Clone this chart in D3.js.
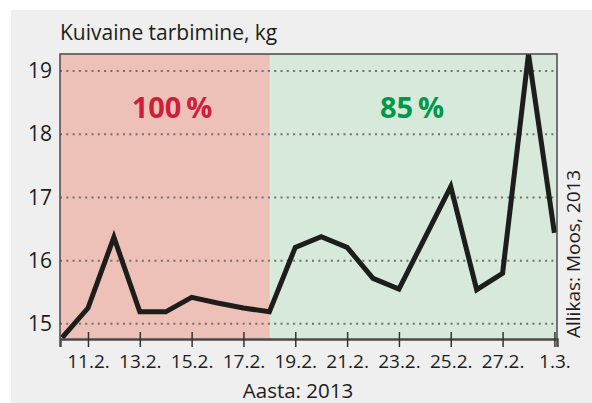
<!DOCTYPE html>
<html>
<head>
<meta charset="utf-8">
<script src="https://cdn.jsdelivr.net/npm/d3@7"></script>
<style>
  body { margin: 0; background: #fff; }
  svg text { font-family: "Open Sans", "Noto Sans", sans-serif; fill: #1d1d1b; }
</style>
</head>
<body>
<div id="chart"></div>
<script>
'use strict';

// days of February 2013 (29 = 1.3.)
const days = [10, 11, 12, 13, 14, 15, 16, 17, 18, 19, 20, 21, 22, 23, 24, 25, 26, 27, 28, 29];
const intake = [14.78, 15.25, 16.37, 15.19, 15.19, 15.42, 15.33, 15.25, 15.19, 16.21,
                16.38, 16.21, 15.72, 15.55, 16.36, 17.17, 15.54, 15.80, 19.27, 16.44];
const tickDays = [11, 13, 15, 17, 19, 21, 23, 25, 27, 29];
const tickLabels = ["11.2.", "13.2.", "15.2.", "17.2.", "19.2.", "21.2.", "23.2.", "25.2.", "27.2.", "1.3."];
const yTicks = [15, 16, 17, 18, 19];
const periods = [
    { from: 9.92, to: 18.02, label: "100\u2009%", fill: "#eec1b8", color: "#cf1d3c" },
    { from: 18.02, to: 29.1, label: "85\u2009%", fill: "#d7e9da", color: "#00994a" }
];

const W = 592, H = 403;
const plot = { left: 60, right: 557, top: 54, bottom: 339 };

const svg = d3.select("#chart").append("svg")
    .attr("width", W)
    .attr("height", H);

// grey panel
svg.append("rect")
    .attr("x", 11).attr("y", 10)
    .attr("width", W - 11).attr("height", H - 10)
    .attr("fill", "#efefef");

const x = d3.scaleLinear().domain([9.92, 29.1]).range([plot.left, plot.right]);
const y = d3.scaleLinear().domain([14.76, 19.27]).range([plot.bottom, plot.top]);

// background periods
svg.selectAll("rect.period")
    .data(periods)
    .join("rect")
    .attr("class", "period")
    .attr("x", d => x(d.from))
    .attr("y", plot.top)
    .attr("width", d => x(d.to) - x(d.from))
    .attr("height", plot.bottom - plot.top)
    .attr("fill", d => d.fill);

// dotted grid
svg.append("g")
    .selectAll("line")
    .data(yTicks)
    .join("line")
    .attr("x1", plot.left).attr("x2", plot.right)
    .attr("y1", d => y(d)).attr("y2", d => y(d))
    .attr("stroke", "#707070")
    .attr("stroke-width", 2)
    .attr("stroke-dasharray", "2,4.3");

// period labels
svg.selectAll("text.period")
    .data(periods)
    .join("text")
    .attr("class", "period")
    .attr("x", (d, i) => (i === 0 ? 172 : 412))
    .attr("y", 118)
    .attr("text-anchor", "middle")
    .style("font-size", "29px")
    .style("font-weight", "bold")
    .style("fill", d => d.color)
    .text(d => d.label);

// clip for line
svg.append("clipPath").attr("id", "clip")
    .append("rect")
    .attr("x", plot.left).attr("y", plot.top)
    .attr("width", plot.right - plot.left).attr("height", plot.bottom - plot.top);

const line = d3.line()
    .x((d, i) => x(days[i]))
    .y(d => y(d));

svg.append("path")
    .datum(intake)
    .attr("clip-path", "url(#clip)")
    .attr("d", line)
    .attr("fill", "none")
    .attr("stroke", "#1d1d1b")
    .attr("stroke-width", 5)
    .attr("stroke-linejoin", "miter")
    .attr("stroke-miterlimit", 10);

// frame
svg.append("path")
    .attr("d", `M${plot.left},${plot.bottom}V${plot.top}H${plot.right}V${plot.bottom}`)
    .attr("fill", "none")
    .attr("stroke", "#4a4a4a")
    .attr("stroke-width", 1.5);

// x axis
const xAxis = d3.axisBottom(x)
    .tickValues(tickDays)
    .tickFormat((d, i) => tickLabels[i])
    .tickSize(8);
const gx = svg.append("g")
    .attr("transform", `translate(0,${plot.bottom})`)
    .call(xAxis);
gx.select(".domain").attr("stroke", "#4a4a4a").attr("stroke-width", 2.5);
gx.selectAll(".tick line")
    .attr("y1", -7)
    .attr("stroke", "#333")
    .attr("stroke-width", 1.5);
gx.selectAll(".tick text")
    .attr("y", 29)
    .attr("dy", null)
    .style("font-size", "19px")
    .style("fill", "#1d1d1b")
    .attr("font-family", null);

// y axis labels
const yAxis = d3.axisLeft(y)
    .tickValues(yTicks)
    .tickSize(0)
    .tickPadding(8)
    .tickFormat(d3.format("d"));
const gy = svg.append("g")
    .attr("transform", `translate(${plot.left},0)`)
    .call(yAxis);
gy.select(".domain").remove();
gy.selectAll(".tick text")
    .style("font-size", "21px")
    .style("fill", "#1d1d1b")
    .attr("font-family", null);

// titles
svg.append("text")
    .attr("x", 60).attr("y", 40)
    .style("font-size", "21px")
    .text("Kuivaine tarbimine, kg");

svg.append("text")
    .attr("x", 298).attr("y", 398)
    .attr("text-anchor", "middle")
    .style("font-size", "20.5px")
    .text("Aasta: 2013");

svg.append("text")
    .attr("transform", "translate(580,338) rotate(-90)")
    .style("font-size", "19px")
    .text("Allikas: Moos, 2013");
</script>
</body>
</html>
